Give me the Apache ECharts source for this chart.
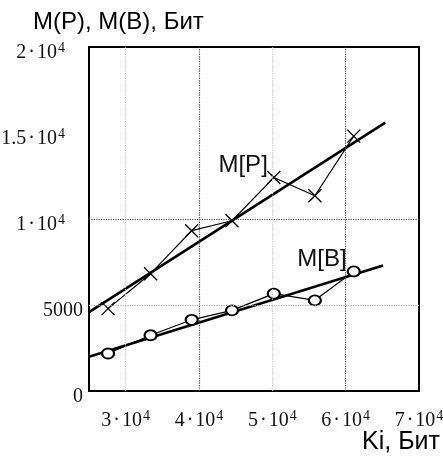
<!DOCTYPE html>
<html>
<head>
<meta charset="utf-8">
<script src="https://cdn.jsdelivr.net/npm/echarts@6/dist/echarts.min.js"></script>
<style>
  html, body { margin: 0; padding: 0; background: #fff; }
  #chart { width: 443px; height: 456px; }
</style>
</head>
<body>
<div id="chart"></div>
<script>
// measured points
const kiBits = [27600, 33400, 39000, 44500, 50200, 55800, 61100]
const mP = [4790, 6820, 9320, 9900, 12410, 11350, 14820]
const mB = [2180, 3240, 4140, 4690, 5660, 5270, 6950]
// straight fits
const fitPX = [25000, 65400], fitPY = [4590, 15600]
const fitBX = [25000, 65100], fitBY = [1990, 7300]
// axis ticks and labels
const xTicks = [30000, 40000, 50000, 60000, 70000]
const xTickLabels = ['3', '4', '5', '6', '7']
const yTicks = [0, 5000, 10000, 15000, 20000]
const yTickLabels = ['0', '5000', '1·10^4', '1.5·10^4', '2·10^4']
const gridDark = { x: [40000, 60000], y: [10000] }
const gridFaint = { x: [30000, 50000], y: [5000] }

const serif = 'Liberation Serif'
const sans = 'Liberation Sans'

const pow = (mant, extra) => `{m|${mant}}{d|·}{m|10}{s|4}` + (extra || '')

const chart = echarts.init(document.getElementById('chart'), null, { renderer: 'canvas' })

const gridLines = []
gridDark.x.forEach(v => gridLines.push({ xAxis: v, lineStyle: { color: '#444' } }))
gridDark.y.forEach(v => gridLines.push({ yAxis: v, lineStyle: { color: '#444' } }))
gridFaint.x.forEach(v => gridLines.push({ xAxis: v, lineStyle: { color: '#c8c8c8' } }))
gridFaint.y.forEach(v => gridLines.push({ yAxis: v, lineStyle: { color: '#aaa' } }))

const supRich = {
  m: { fontFamily: serif, fontSize: 20, color: '#111', lineHeight: 22, verticalAlign: 'bottom', padding: [9, 0, 0, 0] },
  d: { fontFamily: serif, fontSize: 20, color: '#111', lineHeight: 22, verticalAlign: 'bottom', padding: [9, 2, 0, 2] },
  s: { fontFamily: serif, fontSize: 14, color: '#111', lineHeight: 14, verticalAlign: 'top', padding: [0, 0, 0, 1] },
  p: { fontFamily: serif, fontSize: 20, color: '#111', lineHeight: 22, verticalAlign: 'bottom', padding: [9, 0, 0, 0] },
  r: { width: 18 }
}

chart.setOption({
  animation: false,
  backgroundColor: '#fff',
  grid: {
    left: 89, right: 24, top: 47, bottom: 65, containLabel: false, outerBoundsMode: 'none',
    show: true, borderColor: '#000', borderWidth: 2, backgroundColor: 'transparent'
  },
  title: {
    text: 'Ki, Бит', right: -2, top: 425,
    textStyle: { fontFamily: sans, fontSize: 25, fontWeight: 'normal', color: '#000' }
  },
  xAxis: {
    type: 'value', min: 25000, max: 70000, interval: 5000,
    axisLine: { show: false }, axisTick: { show: false }, splitLine: { show: false },
    axisLabel: {
      margin: 18,
      formatter: v => {
        const i = xTicks.indexOf(v)
        return i < 0 ? '' : pow(xTickLabels[i])
      },
      rich: supRich
    }
  },
  yAxis: {
    type: 'value', min: 0, max: 20000, interval: 5000,
    axisLine: { show: false }, axisTick: { show: false }, splitLine: { show: false },
    axisLabel: {
      margin: 6,
      padding: [10, 0, 0, 0],
      formatter: v => {
        const lab = yTickLabels[yTicks.indexOf(v)]
        if (lab.indexOf('^') < 0) return `{p|${lab}}`
        const mant = lab.split('·')[0]
        return pow(mant, '{r|}')
      },
      rich: supRich
    },
    name: 'M(P), M(B), Бит', nameLocation: 'end', nameGap: 12,
    nameTextStyle: { fontFamily: sans, fontSize: 24, color: '#000', align: 'left', verticalAlign: 'bottom', padding: [0, 0, 0, -56] }
  },
  series: [
    {
      type: 'line', name: 'fitP', silent: true, symbol: 'none',
      data: fitPX.map((x, i) => [x, fitPY[i]]),
      lineStyle: { color: '#000', width: 2.6 },
      markLine: { silent: true, symbol: 'none', label: { show: false }, lineStyle: { type: 'dotted', width: 1.2 }, data: gridLines }
    },
    {
      type: 'line', name: 'fitB', silent: true, symbol: 'none',
      data: fitBX.map((x, i) => [x, fitBY[i]]),
      lineStyle: { color: '#000', width: 2.6 }
    },
    {
      type: 'line', name: 'M[P]', silent: true,
      symbol: 'path://M0,0L10,10M10,0L0,10', symbolSize: 13, showAllSymbol: true,
      itemStyle: { color: 'none', borderColor: '#000', borderWidth: 1.3 },
      lineStyle: { color: '#000', width: 1.2 },
      data: kiBits.map((x, i) => {
        const item = { value: [x, mP[i]] }
        if (i === 4) item.label = { show: true, formatter: 'M[P]', position: 'left', distance: 0, offset: [3, -12], fontFamily: sans, fontSize: 24, color: '#111' }
        return item
      })
    },
    {
      type: 'line', name: 'M[B]', silent: true,
      symbol: 'emptyCircle', symbolSize: [12, 10], showAllSymbol: true,
      itemStyle: { color: '#000', borderColor: '#000', borderWidth: 1.3 },
      lineStyle: { color: '#000', width: 1.2 },
      data: kiBits.map((x, i) => {
        const item = { value: [x, mB[i]] }
        if (i === 6) item.label = { show: true, formatter: 'M[B]', position: 'left', distance: 0, offset: [0, -12], fontFamily: sans, fontSize: 24, color: '#111' }
        return item
      })
    }
  ]
})
</script>
</body>
</html>
